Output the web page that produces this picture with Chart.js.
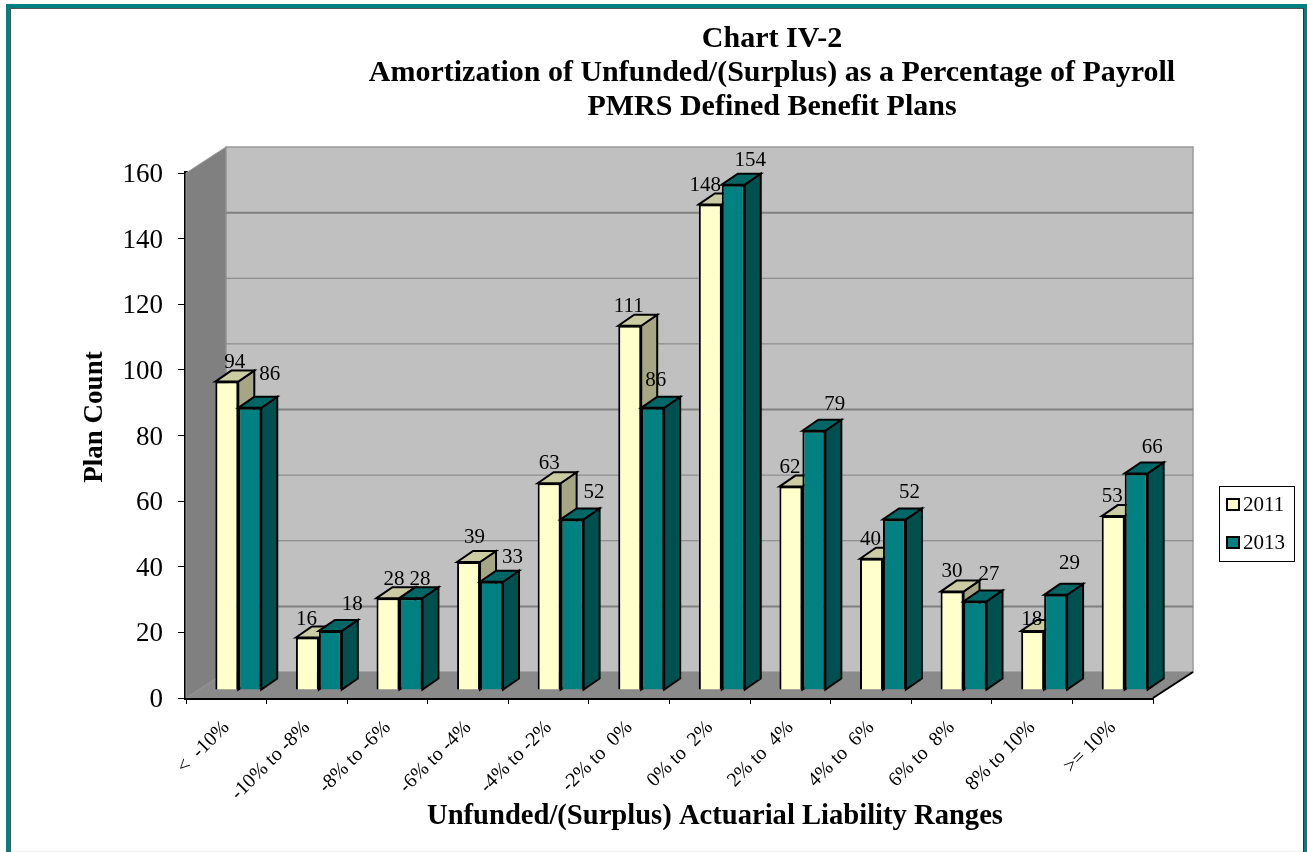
<!DOCTYPE html>
<html>
<head>
<meta charset="utf-8">
<title>Chart IV-2</title>
<script src="https://cdn.jsdelivr.net/npm/chart.js@4"></script>
<style>
  html, body { margin: 0; padding: 0; background: #fff; }
  #wrap { position: relative; width: 1307px; height: 852px; }
</style>
</head>
<body>
<div id="wrap"><canvas id="chart"></canvas></div>
<script>
const categories = ["<  -10%", "-10% to -8%", "-8% to -6%", "-6% to -4%", "-4% to -2%", "-2% to  0%",
  "0% to  2%", "2% to  4%", "4% to  6%", "6% to  8%", "8% to 10%", ">= 10%"];
const plans2011 = [94, 16, 28, 39, 63, 111, 148, 62, 40, 30, 18, 53];
const plans2013 = [86, 18, 28, 33, 52, 86, 154, 79, 52, 27, 29, 66];
const yTicks = [0, 20, 40, 60, 80, 100, 120, 140, 160];
const titleLines = ["Chart IV-2", "Amortization of Unfunded/(Surplus) as a Percentage of Payroll", "PMRS Defined Benefit Plans"];
const yTitle = "Plan Count";
const xTitle = "Unfunded/(Surplus) Actuarial Liability Ranges";

const SERIF = '"Liberation Serif", "Times New Roman", serif';

// 3D look: walls sit behind the front axes, bars stand part way into the depth
const WALL_DX = 40, WALL_DY = -26;
const BAR_DX = 12, BAR_DY = -8;
const SIDE_DX = 16, SIDE_DY = -11;

// value label nudges from the centre of each bar top, hand placed like the spreadsheet did
const labelNudge = {
  0: [[8, -21], [-1, -20], [6, -20], [6, -26], [0, -21], [-1, -21], [-5, -20], [-1, -21], [-1, -21], [0, -22], [-1, -13], [-1, -21]],
  1: [[20, -35], [22, -28], [9, -20], [21, -26], [22, -28], [3, -29], [17, -26], [21, -28], [15, -28], [14, -28], [14, -33], [16, -27]]
};
const faceColors = {
  0: { top: "#cccca3", side: "#a6a685" },
  1: { top: "#006666", side: "#005050" }
};
const thickGrid = [20, 80, 140];

function poly(ctx, pts, fill, stroke, lw) {
  ctx.beginPath();
  pts.forEach((p, i) => i ? ctx.lineTo(p[0], p[1]) : ctx.moveTo(p[0], p[1]));
  ctx.closePath();
  if (fill) { ctx.fillStyle = fill; ctx.fill(); }
  if (stroke) { ctx.strokeStyle = stroke; ctx.lineWidth = lw; ctx.lineJoin = "miter"; ctx.stroke(); }
}

function text(ctx, str, x, y, font, rot) {
  ctx.save();
  ctx.translate(x, y);
  if (rot) ctx.rotate(rot);
  ctx.font = font;
  ctx.fillStyle = "#000";
  ctx.textAlign = "center";
  ctx.textBaseline = "alphabetic";
  ctx.fillText(str, 0, 0);
  ctx.restore();
}

const frame = {
  id: "frame",
  beforeDraw(chart) {
    const ctx = chart.ctx;
    ctx.save();
    ctx.fillStyle = "#fff";
    ctx.fillRect(0, 0, chart.width, chart.height);
    ctx.fillStyle = "#008080";
    ctx.fillRect(6, 4, 1301, 4);
    ctx.fillRect(6, 4, 4, 848);
    ctx.fillRect(1304, 4, 3, 848);
    ctx.fillStyle = "#555";
    ctx.fillRect(10, 8, 1, 844);
    ctx.fillRect(10, 8, 1293, 1);
    ctx.fillStyle = "#333";
    ctx.fillRect(1303, 8, 1, 844);
    ctx.fillStyle = "#eee";
    ctx.fillRect(11, 851, 1292, 1);
    ctx.restore();
  }
};

const walls = {
  id: "walls",
  beforeDatasetsDraw(chart) {
    const ctx = chart.ctx;
    const a = chart.chartArea;
    const y = chart.scales.y;
    const l = a.left, r = a.right, t = a.top, b = a.bottom;
    ctx.save();
    poly(ctx, [[l + WALL_DX, t + WALL_DY], [r + WALL_DX, t + WALL_DY], [r + WALL_DX, b + WALL_DY], [l + WALL_DX, b + WALL_DY]], "#c0c0c0", "#9a9a9a", 1.5);
    poly(ctx, [[l, t], [l + WALL_DX, t + WALL_DY], [l + WALL_DX, b + WALL_DY], [l, b]], "#808080", "#9a9a9a", 1);
    poly(ctx, [[l, b], [l + WALL_DX, b + WALL_DY], [r + WALL_DX, b + WALL_DY], [r, b]], "#8a8a8a");
    yTicks.forEach(v => {
      if (v === 0 || v === 160) return;
      const py = y.getPixelForValue(v) + WALL_DY;
      ctx.beginPath();
      ctx.moveTo(l + WALL_DX, py);
      ctx.lineTo(r + WALL_DX, py);
      ctx.strokeStyle = "#808080";
      ctx.lineWidth = thickGrid.includes(v) ? 2 : 1;
      ctx.stroke();
    });
    // floor edge running back from the end of the x axis
    ctx.beginPath();
    ctx.moveTo(r, b);
    ctx.lineTo(r + WALL_DX, b + WALL_DY);
    ctx.strokeStyle = "#000";
    ctx.lineWidth = 2;
    ctx.stroke();
    ctx.restore();
  },
  // the library would paint 2013 first; 2011 has to go underneath instead
  beforeDatasetDraw() {
    return false;
  },
  afterDatasetsDraw(chart) {
    const ctx = chart.ctx;
    ctx.save();
    ctx.translate(BAR_DX, BAR_DY);
    chart.data.datasets.forEach((ds, i) => {
      const c = faceColors[i];
      chart.getDatasetMeta(i).data.forEach(el => {
        const hw = el.width / 2;
        const xl = el.x - hw, xr = el.x + hw, yt = el.y, yb = el.base;
        poly(ctx, [[xr, yt], [xr + SIDE_DX, yt + SIDE_DY], [xr + SIDE_DX, yb + SIDE_DY], [xr, yb]], c.side, "#000", 2);
        poly(ctx, [[xl, yt], [xl + SIDE_DX, yt + SIDE_DY], [xr + SIDE_DX, yt + SIDE_DY], [xr, yt]], c.top, "#000", 2);
        el.draw(ctx);
      });
    });
    chart.data.datasets.forEach((ds, i) => {
      chart.getDatasetMeta(i).data.forEach((el, k) => {
        const n = labelNudge[i][k];
        text(ctx, String(ds.data[k]), el.x + n[0], el.y + n[1] + 7, "21px " + SERIF);
      });
    });
    ctx.restore();
  }
};

const captions = {
  id: "captions",
  afterDraw(chart) {
    const ctx = chart.ctx;
    titleLines.forEach((line, i) => text(ctx, line, 772, 47 + i * 34, "bold 30px " + SERIF));
    text(ctx, yTitle, 102, 417, "bold 27px " + SERIF, -Math.PI / 2);
    text(ctx, xTitle, 715, 824, "bold 28.6px " + SERIF);

    // legend box
    ctx.save();
    ctx.fillStyle = "#fff";
    ctx.fillRect(1219.5, 486.5, 75, 75);
    ctx.strokeStyle = "#000";
    ctx.lineWidth = 1;
    ctx.strokeRect(1219.5, 486.5, 75, 75);
    chart.data.datasets.forEach((ds, i) => {
      const top = 499 + i * 38;
      ctx.fillStyle = ds.backgroundColor;
      ctx.fillRect(1227, top, 12, 11);
      ctx.strokeStyle = "#000";
      ctx.lineWidth = 2;
      ctx.strokeRect(1227, top, 12, 11);
      ctx.font = "21px " + SERIF;
      ctx.fillStyle = "#000";
      ctx.textAlign = "left";
      ctx.textBaseline = "alphabetic";
      ctx.fillText(ds.label, 1243, 511 + i * 38);
    });
    ctx.restore();
  }
};

new Chart(document.getElementById("chart"), {
  type: "bar",
  data: {
    labels: categories,
    datasets: [
      { label: "2011", data: plans2011, backgroundColor: "#ffffcc", borderColor: "#000", borderWidth: 2, clip: false },
      { label: "2013", data: plans2013, backgroundColor: "#008080", borderColor: "#000", borderWidth: 2, clip: false }
    ]
  },
  options: {
    responsive: true,
    maintainAspectRatio: false,
    animation: false,
    layout: { padding: { left: 116, top: 173, right: 154, bottom: 44 } },
    datasets: { bar: { categoryPercentage: 0.57, barPercentage: 1 } },
    plugins: { legend: { display: false }, title: { display: false }, tooltip: { enabled: false } },
    scales: {
      x: {
        afterFit(axis) { axis.height = 110; },
        grid: { drawOnChartArea: false, color: "#000", tickLength: 6, lineWidth: 1 },
        border: { color: "#000", width: 4 },
        ticks: { color: "#000", font: { family: SERIF, size: 20 }, minRotation: 45, maxRotation: 45, padding: 12, autoSkip: false }
      },
      y: {
        min: 0,
        max: 160,
        afterFit(axis) { axis.width = 70; },
        grid: { drawOnChartArea: false, color: "#000", tickLength: 8, lineWidth: 1 },
        border: { color: "#000", width: 4 },
        ticks: { color: "#000", stepSize: 20, font: { family: SERIF, size: 27 }, padding: 15, labelOffset: 2 }
      }
    }
  },
  plugins: [frame, walls, captions]
});
</script>
</body>
</html>
